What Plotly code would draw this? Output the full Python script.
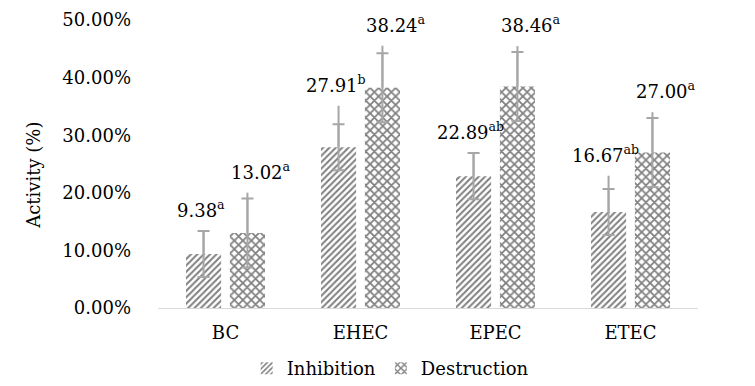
import plotly.graph_objects as go

categories = ["BC", "EHEC", "EPEC", "ETEC"]
inhibition = [9.38, 27.91, 22.89, 16.67]
destruction = [13.02, 38.24, 38.46, 27.00]
inhibition_err = [4.0, 4.0, 4.0, 4.0]
destruction_err = [6.0, 6.0, 6.0, 6.0]
inhibition_whisker = [4.0, 7.2, 3.8, 6.3]
destruction_whisker = [7.0, 7.3, 7.0, 7.0]
inhibition_letters = ["a", "b", "ab", "ab"]
destruction_letters = ["a", "a", "a", "a"]
y_ticks = [0, 10, 20, 30, 40, 50]
y_ticktext = [f"{t:.2f}%" for t in y_ticks]

FONT = "DejaVu Serif"
FS = 18
ERR_COLOR = "#A6A6A6"

fig = go.Figure()

fig.add_trace(go.Bar(
    name="Inhibition", x=categories, y=inhibition,
    marker=dict(color="white", line=dict(width=0),
                pattern=dict(shape="/", fgcolor="black", bgcolor="white", size=4.5, solidity=0.45)),
    error_y=dict(type="data", array=inhibition_err, visible=True,
                 color=ERR_COLOR, thickness=2, width=6),
))
fig.add_trace(go.Bar(
    name="Destruction", x=categories, y=destruction,
    marker=dict(color="white", line=dict(width=0),
                pattern=dict(shape="x", fgcolor="black", bgcolor="white", size=6, solidity=0.5)),
    error_y=dict(type="data", array=destruction_err, visible=True,
                 color=ERR_COLOR, thickness=2, width=6),
))

# whisker extensions (upper line without cap) on an overlaid hidden axis
for vals, wh in [(inhibition, inhibition_whisker), (destruction, destruction_whisker)]:
    fig.add_trace(go.Bar(
        x=categories, y=vals, xaxis="x2", showlegend=False, hoverinfo="skip",
        marker=dict(color="rgba(0,0,0,0)", line=dict(width=0)),
        error_y=dict(type="data", array=wh, arrayminus=[0] * len(wh), visible=True,
                     color=ERR_COLOR, thickness=2, width=0),
    ))

annotations = []
for vals, errs, whs, letters, shift in [
    (inhibition, inhibition_err, inhibition_whisker, inhibition_letters, -25),
    (destruction, destruction_err, destruction_whisker, destruction_letters, 35),
]:
    for c, v, e, w, l in zip(categories, vals, errs, whs, letters):
        annotations.append(dict(
            x=c, y=v + max(e, w), xref="x", yref="y",
            text=f"{v:.2f}<sup>{l}</sup>", showarrow=False,
            xanchor="center", yanchor="bottom", xshift=shift, yshift=8,
            font=dict(family=FONT, size=FS, color="black"),
        ))

# y-axis title
annotations.append(dict(
    text="Activity (%)", xref="paper", yref="paper", x=-0.231, y=0.46,
    xanchor="center", yanchor="middle", textangle=-90, showarrow=False,
    font=dict(family=FONT, size=FS, color="black"),
))

xrange = [-0.5, 3.5]
fig.update_layout(
    width=755, height=386,
    margin=dict(l=150, r=65, t=12, b=86, autoexpand=False),
    paper_bgcolor="white", plot_bgcolor="white",
    barmode="group", bargap=0.35, bargroupgap=0.2,
    font=dict(family=FONT, size=FS, color="black"),
    xaxis=dict(range=xrange, showgrid=False, showline=True, linecolor="#D9D9D9", linewidth=1,
               ticks="", tickfont=dict(family=FONT, size=FS, color="black"),
               ticklabelstandoff=8, zeroline=False, automargin=False),
    xaxis2=dict(range=xrange, overlaying="x", visible=False,
                categoryorder="array", categoryarray=categories),
    yaxis=dict(range=[0, 50], tickmode="array", tickvals=y_ticks, ticktext=y_ticktext,
               showgrid=False, showline=False, zeroline=False, ticks="",
               ticklabelstandoff=26, tickfont=dict(family=FONT, size=FS, color="black"),
               automargin=False),
    legend=dict(orientation="h", x=0.43, xanchor="center", y=-0.21, yanchor="middle",
                font=dict(family=FONT, size=FS, color="black"),
                itemwidth=30, tracegroupgap=0),
    annotations=annotations,
    showlegend=True,
)

fig.write_html("out.html")
